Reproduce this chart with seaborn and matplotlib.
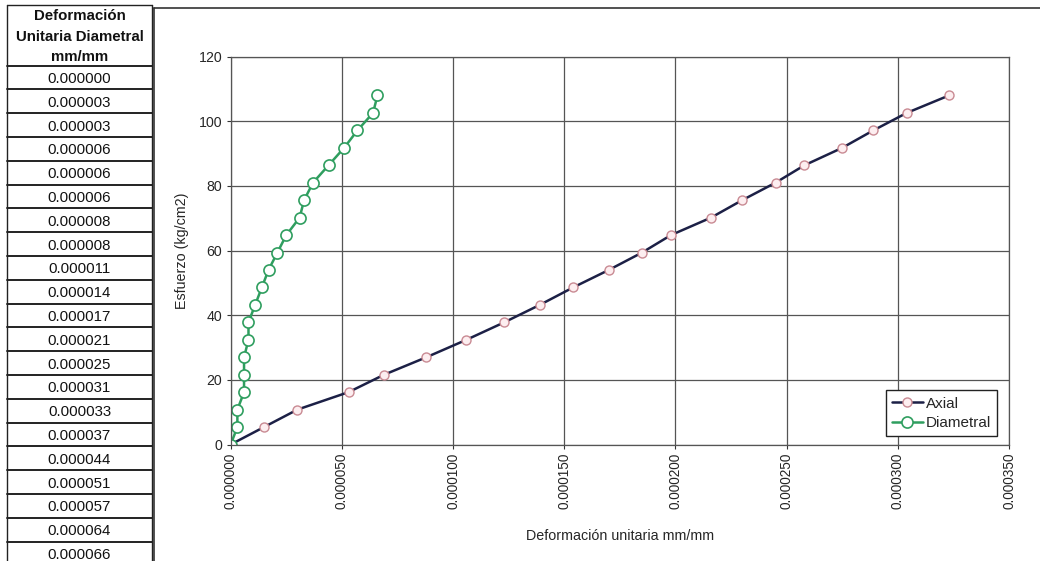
import numpy as np
import pandas as pd
import matplotlib
matplotlib.use("Agg")
import matplotlib.pyplot as plt
import matplotlib.ticker as mticker
import seaborn as sns

# ---------------------------------------------------------------
# DATA
# ---------------------------------------------------------------
esfuerzo = [0, 5.4, 10.8, 16.2, 21.6, 27.0, 32.4, 37.8, 43.2, 48.6, 54.0,
            59.4, 64.8, 70.2, 75.6, 81.0, 86.4, 91.8, 97.2, 102.6, 108.0]
def_axial = [0.000000, 0.000015, 0.000030, 0.000053, 0.000069, 0.000088,
             0.000106, 0.000123, 0.000139, 0.000154, 0.000170, 0.000185,
             0.000198, 0.000216, 0.000230, 0.000245, 0.000258, 0.000275,
             0.000289, 0.000304, 0.000323]
def_diametral = [0.000000, 0.000003, 0.000003, 0.000006, 0.000006, 0.000006,
                 0.000008, 0.000008, 0.000011, 0.000014, 0.000017, 0.000021,
                 0.000025, 0.000031, 0.000033, 0.000037, 0.000044, 0.000051,
                 0.000057, 0.000064, 0.000066]
table_header = ["Deformación", "Unitaria Diametral", "mm/mm"]
x_ticks = [0.0, 0.00005, 0.0001, 0.00015, 0.0002, 0.00025, 0.0003, 0.00035]
y_ticks = [0, 20, 40, 60, 80, 100, 120]

df_axial = pd.DataFrame({"x": def_axial, "y": esfuerzo})
df_diam = pd.DataFrame({"x": def_diametral, "y": esfuerzo})

# ---------------------------------------------------------------
# STYLE
# ---------------------------------------------------------------
sns.set_style("whitegrid")
plt.rcParams["font.family"] = ["Liberation Sans", "DejaVu Sans"]

W, H = 1040, 561
fig = plt.figure(figsize=(W / 100, H / 100), dpi=100)

# background layer in pixel coords (table + chart frame)
bg = fig.add_axes([0, 0, 1, 1])
bg.set_xlim(0, W)
bg.set_ylim(H, 0)
bg.axis("off")

# chart area frame
bg.plot([154, 154], [8, H + 5], color="#333333", lw=1.2)
bg.plot([154, W + 5], [8, 8], color="#333333", lw=1.2)

# table
t_left, t_right, t_top, head_bot, row_h = 7, 152, 5, 65.5, 23.8
bg.plot([t_left, t_left], [t_top, H + 5], color="#222222", lw=1.0)
bg.plot([t_right, t_right], [t_top, H + 5], color="#222222", lw=1.0)
bg.plot([t_left, t_right], [t_top, t_top], color="#222222", lw=1.0)
bg.plot([t_left, t_right], [head_bot, head_bot], color="#222222", lw=1.4)
for i, line in enumerate(table_header):
    bg.text((t_left + t_right) / 2, 20 + i * 20.5, line, ha="center", va="baseline",
            fontsize=10.8, fontweight="bold", color="#111111")
for i, v in enumerate(def_diametral):
    yc = head_bot + row_h * (i + 0.5)
    bg.text((t_left + t_right) / 2, yc + 5.5, f"{v:.6f}", ha="center", va="baseline",
            fontsize=10.8, color="#111111")
    bg.plot([t_left, t_right], [head_bot + row_h * (i + 1)] * 2,
            color="#222222", lw=1.4)

# ---------------------------------------------------------------
# MAIN CHART
# ---------------------------------------------------------------
ax = fig.add_axes([230.7 / W, (H - 444.5) / H, (1009 - 230.7) / W, (444.5 - 56.7) / H])
ax.set_facecolor("white")

sns.lineplot(data=df_axial, x="x", y="y", ax=ax, estimator=None, sort=False,
             color="#1c2046", lw=1.8, marker="o", markersize=6.5,
             markerfacecolor="#fdeef0", markeredgecolor="#c98a93",
             markeredgewidth=1.0, label="Axial")
sns.lineplot(data=df_diam, x="x", y="y", ax=ax, estimator=None, sort=False,
             color="#2f9e5f", lw=1.8, marker="o", markersize=8,
             markerfacecolor="white", markeredgecolor="#2f9e5f",
             markeredgewidth=1.2, label="Diametral")

ax.set_xlim(0, 0.00035)
ax.set_ylim(0, 120)
ax.set_xticks(x_ticks)
ax.set_yticks(y_ticks)
ax.xaxis.set_major_formatter(mticker.FormatStrFormatter("%.6f"))
ax.tick_params(axis="x", rotation=90, labelsize=9.8, length=3, color="#333333",
               pad=3, bottom=True)
ax.tick_params(axis="y", labelsize=10.2, length=3, color="#333333", pad=3, left=True)
ax.grid(True, color="#555555", lw=0.9)
for s in ax.spines.values():
    s.set_color("#555555")
    s.set_linewidth(0.9)

ax.set_xlabel("Deformación unitaria mm/mm", fontsize=10.3, labelpad=14)
ax.set_ylabel("Esfuerzo (kg/cm2)", fontsize=10.3, labelpad=7)

leg = ax.legend(loc="lower right", fontsize=11, frameon=True, fancybox=False,
                handlelength=2.0, handletextpad=0.2, borderpad=0.4,
                labelspacing=0.35, borderaxespad=0,
                bbox_to_anchor=(0.9846, 0.022))
leg.get_frame().set_edgecolor("#222222")
leg.get_frame().set_linewidth(1.0)
leg.get_frame().set_alpha(1)

fig.savefig("out.png", dpi=100)
